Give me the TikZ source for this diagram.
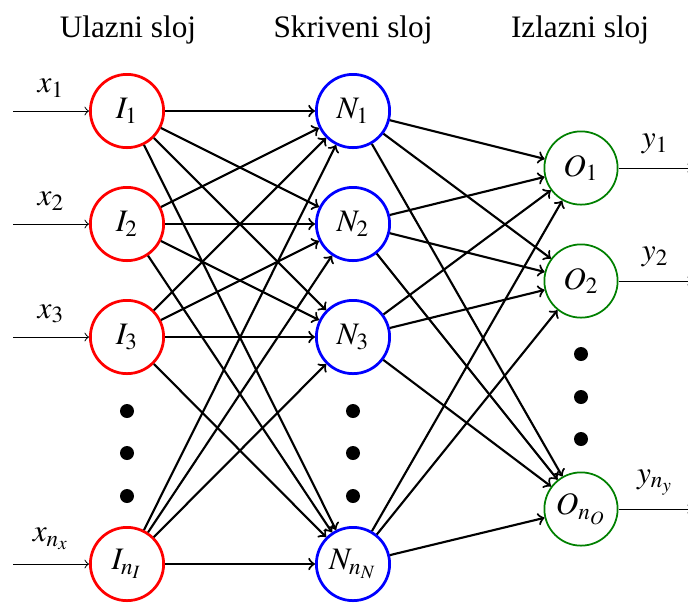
\documentclass[tikz,border=0pt]{standalone}
\usepackage{mathptmx}
\usepackage{fontspec}
\setmainfont{Liberation Serif}
\begin{document}
\begin{tikzpicture}[x=0.4pt,y=-0.4pt,
  font=\fontsize{12.5}{14}\selectfont,
  neuron/.style={circle, inner sep=0pt, minimum size=29.3pt, fill=white},
  inp/.style={neuron, draw=red, line width=1.1pt},
  hid/.style={neuron, draw=blue, line width=1.1pt},
  outn/.style={neuron, draw=green!50!black, line width=0.7pt},
  conn/.style={->, line width=0.85pt},
  io/.style={->, line width=0.4pt},
  dotn/.style={circle, fill=black, inner sep=0pt, minimum size=5.6pt},
  title/.style={inner sep=0pt}]
\useasboundingbox (0,0) rectangle (688,603);
% titles
\node[title] (t1) at (128,30) {Ulazni sloj};
\node[title] (t2) at (353,30) {Skriveni sloj};
\node[title] (t3) at (580,30) {Izlazni sloj};
% input layer
\node[inp] (I1) at (127,111) {$I_1$};
\node[inp] (I2) at (127,224) {$I_2$};
\node[inp] (I3) at (127,337) {$I_3$};
\node[inp] (In) at (127,564) {$I_{n_I}$};
% hidden layer
\node[hid] (N1) at (353,111) {$N_1$};
\node[hid] (N2) at (353,224) {$N_2$};
\node[hid] (N3) at (353,337) {$N_3$};
\node[hid] (Nn) at (353,564) {$N_{n_N}$};
% output layer
\node[outn] (O1) at (581,168) {$O_1$};
\node[outn] (O2) at (581,281) {$O_2$};
\node[outn] (On) at (581,509) {$O_{n_O}$};
% dots
\node[dotn] (di1) at (127,411) {};
\node[dotn] (di2) at (127,453) {};
\node[dotn] (di3) at (127,496) {};
\node[dotn] (dh1) at (353,411) {};
\node[dotn] (dh2) at (353,453) {};
\node[dotn] (dh3) at (353,496) {};
\node[dotn] (do1) at (581,354) {};
\node[dotn] (do2) at (581,397) {};
\node[dotn] (do3) at (581,439) {};
% connections
\foreach \a in {I1,I2,I3,In}
  \foreach \b in {N1,N2,N3,Nn}
    \draw[conn] (\a) -- (\b);
\foreach \a in {N1,N2,N3,Nn}
  \foreach \b in {O1,O2,On}
    \draw[conn] (\a) -- (\b);
% inputs
\coordinate (x1) at (13,111);
\coordinate (x2) at (13,224);
\coordinate (x3) at (13,337);
\coordinate (xn) at (13,564);
\draw[io] (x1) -- node[above=2pt] {$x_1$} (I1);
\draw[io] (x2) -- node[above=2pt] {$x_2$} (I2);
\draw[io] (x3) -- node[above=2pt] {$x_3$} (I3);
\draw[io] (xn) -- node[above=2pt] {$x_{n_x}$} (In);
% outputs
\coordinate (y1) at (692,168);
\coordinate (y2) at (692,281);
\coordinate (yn) at (692,509);
\draw[io] (O1) -- node[above=2pt] {$y_1$} (y1);
\draw[io] (O2) -- node[above=2pt] {$y_2$} (y2);
\draw[io] (On) -- node[above=2pt] {$y_{n_y}$} (yn);
\end{tikzpicture}
\end{document}
